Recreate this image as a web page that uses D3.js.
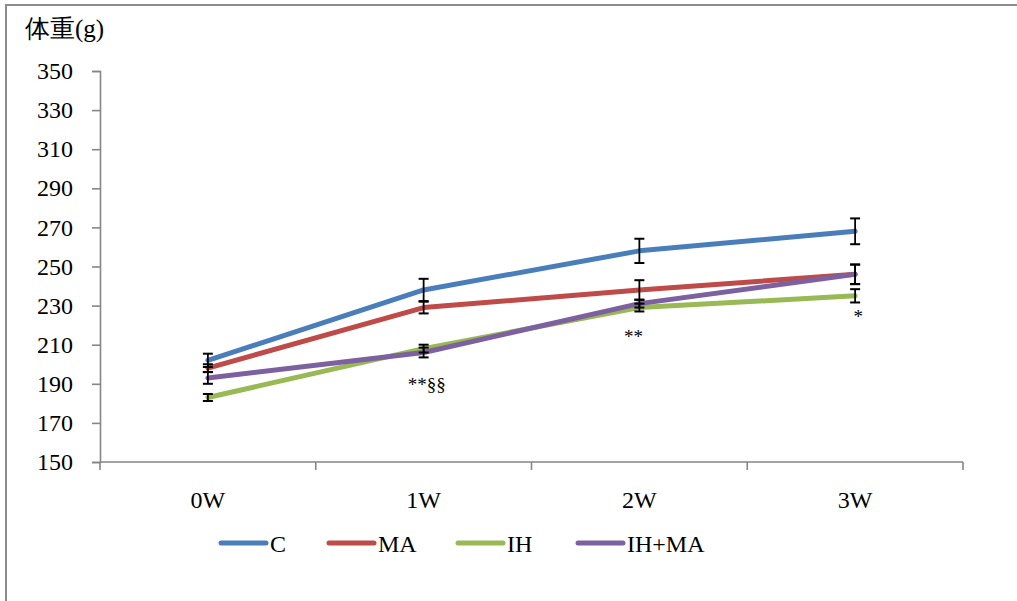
<!DOCTYPE html>
<html>
<head>
<meta charset="utf-8">
<script src="https://cdn.jsdelivr.net/npm/d3@7"></script>
<style>
  html, body { margin: 0; padding: 0; background: #fff; }
  svg { display: block; }
  text { font-family: "Liberation Serif", "DejaVu Serif", serif; fill: #000; }
</style>
</head>
<body>
<script>
// Body weight over four weeks, four groups (mean ± error)
const weeks = ["0W", "1W", "2W", "3W"];
const seriesNames = ["C", "MA", "IH", "IH+MA"];
const seriesColors = ["#4a7ebb", "#be4b48", "#98b954", "#7d60a0"];
const valuesC    = [202, 238, 258, 268];
const valuesMA   = [198, 229, 238, 246];
const valuesIH   = [183, 208, 229, 235];
const valuesIHMA = [193, 206, 231, 246];
const errorsC    = [3.4, 5.7, 6.2, 6.6];
const errorsMA   = [2, 3, 5, 5];
const errorsIH   = [1.8, 2, 2, 3.4];
const errorsIHMA = [3, 2.5, 2, 5];
const yTicks = [150, 170, 190, 210, 230, 250, 270, 290, 310, 330, 350];
const marks = [
  { week: "1W", value: 186.5, text: "**§§", dx: 3 },
  { week: "2W", value: 211, text: "**", dx: -6 },
  { week: "3W", value: 221, text: "*", dx: 3 }
];

const series = seriesNames.map((name, i) => ({
  name,
  color: seriesColors[i],
  values: [valuesC, valuesMA, valuesIH, valuesIHMA][i],
  errors: [errorsC, errorsMA, errorsIH, errorsIHMA][i]
}));

const W = 1017, H = 601;
const svg = d3.select("body").append("svg").attr("width", W).attr("height", H);

// outer frame (extends past the right and bottom edges)
svg.append("rect")
  .attr("x", 6).attr("y", 5).attr("width", W + 20).attr("height", H + 20)
  .attr("fill", "none").attr("stroke", "#8c8c8c").attr("stroke-width", 2);

const x0 = 100, x1 = 963, yTop = 71, yBot = 462;
const x = d3.scaleBand().domain(weeks).range([x0, x1]).padding(0);
const y = d3.scaleLinear().domain([150, 350]).range([yBot, yTop]);
const cx = w => x(w) + x.bandwidth() / 2;

const axisColor = "#868686";

// y axis
const yAxis = svg.append("g").attr("transform", `translate(${x0},0)`)
  .call(d3.axisLeft(y).tickValues(yTicks).tickSize(8).tickPadding(19).tickFormat(d3.format("d")));
yAxis.select(".domain").attr("stroke", axisColor).attr("stroke-width", 1.6);
yAxis.selectAll(".tick line").attr("stroke", axisColor).attr("stroke-width", 1.6);
yAxis.selectAll(".tick text").attr("font-size", 24).attr("fill", "#000")
  .attr("font-family", "'Liberation Serif', serif");

// x axis with boundary ticks between categories
const xAxisG = svg.append("g").attr("transform", `translate(0,${yBot})`);
xAxisG.append("line").attr("x1", x0).attr("x2", x1).attr("y1", 0).attr("y2", 0)
  .attr("stroke", axisColor).attr("stroke-width", 1.6);
const bounds = weeks.map(w => x(w)).concat([x1]);
xAxisG.selectAll("line.b").data(bounds).join("line").attr("class", "b")
  .attr("x1", d => d).attr("x2", d => d).attr("y1", 0).attr("y2", 8)
  .attr("stroke", axisColor).attr("stroke-width", 1.6);
xAxisG.selectAll("text").data(weeks).join("text")
  .attr("x", d => cx(d)).attr("y", 46).attr("text-anchor", "middle")
  .attr("font-size", 24).text(d => d);

// y axis title
svg.append("text").attr("x", 25).attr("y", 37)
  .attr("font-size", 25)
  .attr("font-family", "'Noto Sans CJK JP', 'Liberation Serif', serif")
  .text("体重(g)");

// series lines
const line = d3.line().x((d, i) => cx(weeks[i])).y(d => y(d));
svg.selectAll("path.series").data(series).join("path").attr("class", "series")
  .attr("d", d => line(d.values))
  .attr("fill", "none").attr("stroke", d => d.color)
  .attr("stroke-width", 5).attr("stroke-linejoin", "round").attr("stroke-linecap", "round");

// error bars
const errG = svg.append("g");
series.forEach(s => {
  s.values.forEach((v, i) => {
    const px = cx(weeks[i]);
    const top = y(v + s.errors[i]), bot = y(v - s.errors[i]);
    errG.append("line").attr("x1", px).attr("x2", px).attr("y1", top).attr("y2", bot)
      .attr("stroke", "#000").attr("stroke-width", 1.8);
    [top, bot].forEach(yy => errG.append("line")
      .attr("x1", px - 5).attr("x2", px + 5).attr("y1", yy).attr("y2", yy)
      .attr("stroke", "#000").attr("stroke-width", 2));
  });
});

// significance marks
svg.selectAll("text.sig").data(marks).join("text").attr("class", "sig")
  .attr("x", d => cx(d.week) + d.dx)
  .attr("y", d => y(d.value))
  .attr("text-anchor", "middle").attr("font-size", 19)
  .text(d => d.text);

// legend
const legendItems = [
  { x: 221, idx: 0 }, { x: 329, idx: 1 }, { x: 458, idx: 2 }, { x: 578, idx: 3 }
];
const lg = svg.append("g").attr("transform", "translate(0,543)");
legendItems.forEach(li => {
  const s = series[li.idx];
  lg.append("line").attr("x1", li.x).attr("x2", li.x + 45).attr("y1", 0).attr("y2", 0)
    .attr("stroke", s.color).attr("stroke-width", 5).attr("stroke-linecap", "round");
  lg.append("text").attr("x", li.x + 49).attr("y", 9).attr("font-size", 24).text(s.name);
});
</script>
</body>
</html>
